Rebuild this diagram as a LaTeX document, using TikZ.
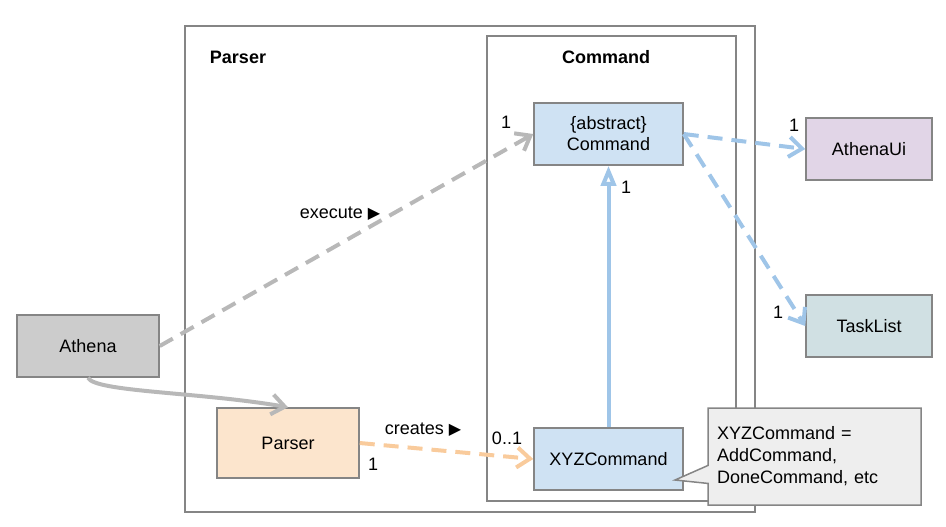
\documentclass[tikz,border=0pt]{standalone}
\usepackage{fontspec}
\setmainfont{Liberation Sans}
\newfontfamily\symbolfont{DejaVu Sans}
\usetikzlibrary{arrows.meta}
\usetikzlibrary{shapes.callouts}

\definecolor{cmdblue}{HTML}{CFE2F3}
\definecolor{uipurple}{HTML}{E1D5E7}
\definecolor{listteal}{HTML}{D0E0E3}
\definecolor{athgray}{HTML}{CCCCCC}
\definecolor{parsorange}{HTML}{FCE5CD}
\definecolor{notegray}{HTML}{EEEEEE}
\definecolor{edgegray}{HTML}{B8B8B8}
\definecolor{edgeblue}{HTML}{9FC5E8}
\definecolor{edgeorange}{HTML}{F9CB9C}
\definecolor{linegray}{HTML}{858585}

\newcommand{\rtri}{{\symbolfont\fontsize{8}{8}\selectfont ▶}}

\begin{document}
\begin{tikzpicture}[x=0.5pt, y=-0.5pt, font=\fontsize{9}{10.5}\selectfont,
  umlbox/.style={draw=linegray, line width=0.75pt, minimum height=31pt, inner sep=0pt, align=center},
  frame/.style={draw=linegray, line width=0.75pt},
  link/.style={line width=2pt, dash pattern=on 7.5pt off 4.5pt},
  openv/.style={-{Straight Barb[length=6.5pt,width=10pt]}},
  mult/.style={inner sep=0pt}]
          \useasboundingbox (0,0) rectangle (946,526);
          % frames
          \draw[frame] (185,26) rectangle (755,512);
          \node[font=\fontsize{9}{10.5}\selectfont\bfseries] (parsertitle) at (238,57) {Parser};
          \draw[frame] (487,36) rectangle (736,501);
          \node[font=\fontsize{9}{10.5}\selectfont\bfseries] (cmdtitle) at (606,57) {Command};
          % classes
          \node[umlbox, fill=athgray, minimum width=71pt] (athena) at (88,346) {Athena};
          \node[umlbox, fill=parsorange, minimum width=71pt, minimum height=35pt] (parser) at (288,443) {Parser};
          \node[umlbox, fill=cmdblue, minimum width=74.5pt] (cmd) at (608.5,134) {\{abstract\}\\Command};
          \node[umlbox, fill=cmdblue, minimum width=74.5pt] (xyz) at (608.5,459) {XYZCommand};
          \node[umlbox, fill=uipurple, minimum width=63pt] (athenaui) at (869,149) {AthenaUi};
          \node[umlbox, fill=listteal, minimum width=63pt] (tasklist) at (869,326) {TaskList};
          % note
          \coordinate (notetip) at (675,480);
          \node[rectangle callout, callout absolute pointer={(notetip)}, callout pointer width=9pt,
            draw=linegray, fill=notegray, line width=0.75pt, minimum width=106.5pt, minimum height=48.5pt,
            text width=97.5pt, inner xsep=4.5pt, align=left, font=\fontsize{9}{11}\selectfont] (note) at (814.5,456.5)
            {XYZCommand =\\AddCommand,\\DoneCommand, etc};
          % links
          \draw[link, edgegray, openv] (athena.east) -- (cmd.west);
          \node (execlbl) at (340,214) {execute \rtri};
          \draw[edgegray, line width=2pt, openv] (athena.south) .. controls (95,392) and (200,392) .. (parser.north);
          \draw[link, edgeorange, openv] (parser.east) -- (xyz.west);
          \node (creatlbl) at (423,430) {creates \rtri};
          \draw[edgeblue, line width=2pt, -{Triangle[length=10pt,width=7.5pt,fill=white]}] (xyz.north) -- (cmd.south);
          \draw[link, edgeblue, openv] (cmd.east) -- (athenaui.west);
          \draw[link, edgeblue, openv] (cmd.east) -- (tasklist.west);
          % multiplicities
          \node[mult] (mexec) at (506,122) {1};
          \node[mult] (minh) at (626,187) {1};
          \node[mult] (mui) at (794,125) {1};
          \node[mult] (mlist) at (778,312) {1};
          \node[mult] (mparse) at (373,464) {1};
          \node[mult] (mxyz) at (507,438) {0..1};
\end{tikzpicture}
\end{document}
